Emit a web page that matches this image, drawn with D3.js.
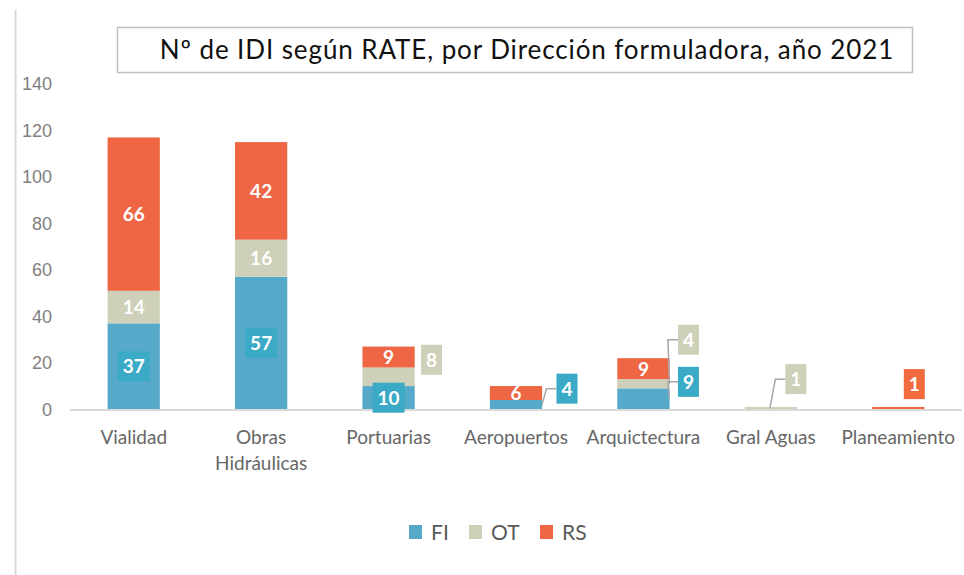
<!DOCTYPE html>
<html lang="es">
<head>
  <meta charset="UTF-8">
  <title>Nº de IDI según RATE</title>
  <script src="https://d3js.org/d3.v7.min.js"></script>
  <style>
    body { margin: 0; background: #fff; }
    svg { display: block; font-family: Lato, "Open Sans", sans-serif; }
    .tick text { fill: #7f7f7f; font-size: 18px; }
    .cat { fill: #666; font-size: 19px; text-anchor: middle; }
    .lbl { fill: #fff; font-size: 19px; font-weight: bold; text-anchor: middle; }
    .leader { stroke: #a6a6a6; stroke-width: 1.5; fill: none; }
  </style>
</head>
<body>
<svg width="964" height="575"></svg>
<script>
// datos
const categories = ["Vialidad", "Obras Hidráulicas", "Portuarias", "Aeropuertos", "Arquictectura", "Gral Aguas", "Planeamiento"];
const seriesNames = ["FI", "OT", "RS"];
const FI = [37, 57, 10, 4, 9, 0, 0];
const OT = [14, 16, 8, 0, 4, 1, 0];
const RS = [66, 42, 9, 6, 9, 0, 1];
const yTicks = [0, 20, 40, 60, 80, 100, 120, 140];
const title = "Nº de IDI según RATE, por Dirección formuladora, año 2021";

const colors = { FI: "#57a9c9", OT: "#cfd0b9", RS: "#ee6644" };
const boxColors = { FI: "#3aaac6", OT: "#cfd0b9", RS: "#f26b3f" };

// etiquetas fuera de la barra (desplazamientos en px respecto al centro del segmento)
const callouts = {
  "Portuarias|OT": { dx: 43, dy: -17 },
  "Aeropuertos|FI": { dx: 51, dy: -16, ax: 26 },
  "Arquictectura|OT": { dx: 45, dy: -44, ax: 26 },
  "Arquictectura|FI": { dx: 45, dy: -17, ax: 26 },
  "Gral Aguas|OT": { dx: 25, dy: -29, ax: -1 },
  "Planeamiento|RS": { dx: 16, dy: -24 }
};

const table = categories.map((c, i) => ({ cat: c, FI: FI[i], OT: OT[i], RS: RS[i] }));
const stacked = d3.stack().keys(seriesNames)(table);

const svg = d3.select("svg");

// línea vertical gris a la izquierda
svg.append("line")
  .attr("x1", 15.5).attr("x2", 15.5).attr("y1", 10).attr("y2", 575)
  .attr("stroke", "#d9d9d9").attr("stroke-width", 2);

// título
svg.append("rect")
  .attr("x", 117.5).attr("y", 27.5).attr("width", 795).attr("height", 45)
  .attr("fill", "#fff").attr("stroke", "#bfbfbf").attr("stroke-width", 1.5);
svg.append("text")
  .attr("x", 527).attr("y", 59)
  .attr("text-anchor", "middle")
  .attr("font-size", 26)
  .attr("letter-spacing", 0.9)
  .attr("fill", "#111")
  .text(title);

const x = d3.scaleBand()
  .domain(categories)
  .range([70, 962])
  .paddingInner(0.59)
  .paddingOuter(0.295);

const y = d3.scaleLinear()
  .domain([0, 140])
  .range([409.3, 84]);

// eje Y
svg.append("g")
  .attr("transform", "translate(54,0)")
  .call(d3.axisLeft(y).tickValues(yTicks).tickSize(0).tickPadding(2))
  .call(g => g.select(".domain").remove());

// barras
svg.append("g")
  .selectAll("g")
  .data(stacked)
  .join("g")
  .attr("fill", d => colors[d.key])
  .selectAll("rect")
  .data(d => d)
  .join("rect")
  .attr("x", d => x(d.data.cat))
  .attr("y", d => y(d[1]))
  .attr("width", x.bandwidth())
  .attr("height", d => y(d[0]) - y(d[1]));

// línea base
svg.append("line")
  .attr("x1", 70).attr("x2", 962)
  .attr("y1", y(0) + 0.7).attr("y2", y(0) + 0.7)
  .attr("stroke", "#d9d9d9").attr("stroke-width", 2);

// etiquetas de datos
const lblG = svg.append("g");
stacked.forEach(s => {
  s.forEach(d => {
    const v = d[1] - d[0];
    if (!v) return;
    const cat = d.data.cat;
    const cx = x(cat) + x.bandwidth() / 2;
    const my = (y(d[0]) + y(d[1])) / 2;
    const co = callouts[cat + "|" + s.key];
    let bx = cx, by = my;
    if (co) { bx = cx + co.dx; by = my + co.dy; }
    const boxed = co || s.key === "FI";
    const txt = String(v);
    const w = txt.length * 11 + 10;
    if (co && co.ax !== undefined) {
      const ex = bx - w / 2 - 10;
      lblG.append("polyline")
        .attr("class", "leader")
        .attr("points", [[cx + co.ax, my], [ex, by], [bx - w / 2, by]].map(p => p.join(",")).join(" "));
    }
    if (boxed) {
      lblG.append("rect")
        .attr("x", bx - w / 2).attr("y", by - 15)
        .attr("width", w).attr("height", 30)
        .attr("fill", boxColors[s.key]);
    }
    lblG.append("text")
      .attr("class", "lbl")
      .attr("x", bx).attr("y", by + 7)
      .text(txt);
  });
});

// categorías
svg.append("g")
  .selectAll("text")
  .data(categories)
  .join("text")
  .attr("class", "cat")
  .attr("x", d => x(d) + x.bandwidth() / 2)
  .attr("y", 444)
  .each(function (d) {
    const lines = d === "Obras Hidráulicas" ? ["Obras", "Hidráulicas"] : [d];
    d3.select(this).selectAll("tspan")
      .data(lines)
      .join("tspan")
      .attr("x", x(d) + x.bandwidth() / 2)
      .attr("dy", (l, i) => i ? 26 : 0)
      .text(l => l);
  });

// leyenda
const legX = [409, 469, 540];
const leg = svg.append("g");
seriesNames.forEach((k, i) => {
  leg.append("rect")
    .attr("x", legX[i]).attr("y", 525)
    .attr("width", 13).attr("height", 14)
    .attr("fill", colors[k]);
  leg.append("text")
    .attr("x", legX[i] + 22).attr("y", 539.5)
    .attr("font-size", 21)
    .attr("fill", "#595959")
    .text(k);
});
</script>
</body>
</html>
